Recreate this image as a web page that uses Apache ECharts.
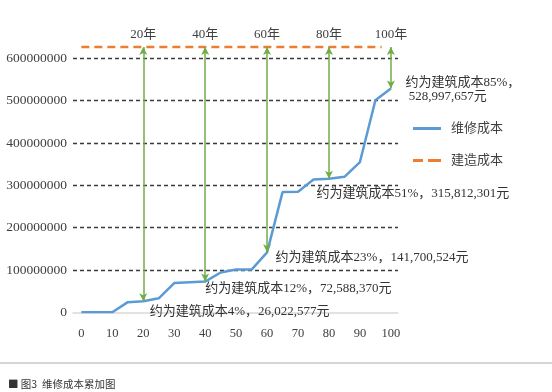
<!DOCTYPE html>
<html><head><meta charset="utf-8">
<script src="https://cdn.jsdelivr.net/npm/echarts@6/dist/echarts.min.js"></script>
<style>html,body{margin:0;padding:0;background:#fff}#c{width:552px;height:392px}</style>
</head><body><div id="c"></div>
<script>
// ---- data ----
const years = [0,5,10,15,20,25,30,35,40,45,50,55,60,65,70,75,80,85,90,95,100];
const maintenanceCost = [0,0,0,24000000,26022577,33000000,69000000,71000000,72588370,94000000,101000000,101000000,141700524,284000000,285000000,314000000,315812301,320000000,355000000,501000000,528997657];
const constructionSpan = [0, 97];
const constructionCostValue = 627000000;
const markerYears = [20,40,60,80,100];
const markerLabels = ['20年','40年','60年','80年','100年'];
const markerValues = [26022577,72588370,141700524,315812301,528997657];
const annotationTexts = [
  '约为建筑成本4%，26,022,577元',
  '约为建筑成本12%，72,588,370元',
  '约为建筑成本23%，141,700,524元',
  '约为建筑成本51%，315,812,301元',
  '约为建筑成本85%，\n 528,997,657元'
];
const xTickLabels = [0,10,20,30,40,50,60,70,80,90,100];
const seriesNames = ['维修成本','建造成本'];
const caption = '■ 图3  维修成本累加图';

// ---- layout (not data) ----
const annotationOffsets = [[7,10.7],[0.5,7.4],[9,5.7],[-12,15.4],[15,1.6]];
const serif = '"Liberation Serif","Noto Sans CJK SC",serif';

const chart = echarts.init(document.getElementById('c'), null, {renderer:'canvas'});
chart.setOption({
  animation: false,
  backgroundColor: '#fff',
  title: {
    text: caption, left: 3, top: 374,
    textStyle: {fontSize: 10.5, fontWeight: 'normal', color: '#333', fontFamily: '"Noto Sans CJK SC",sans-serif'}
  },
  graphic: [{type:'line', shape:{x1:0,y1:363,x2:552,y2:363}, style:{stroke:'#c9c9c9', lineWidth:1.5}}],
  legend: {
    orient: 'vertical', left: 408, top: 117,
    itemWidth: 28, itemHeight: 14, itemGap: 19,
    textStyle: {fontSize: 13, color: '#404040', fontFamily: serif, padding:[0,0,0,5]},
    data: [
      {name: seriesNames[0], icon: 'path://M0,0h28v3h-28z'},
      {name: seriesNames[1], icon: 'path://M0,0h10v3h-10zM15,0h13v3h-13z'}
    ]
  },
  grid: {left: 73, right: 154, top: 37.2, bottom: 79.7},
  xAxis: {
    type: 'value', min: -2.7, max: 102.3,
    axisLine: {show: true, lineStyle: {color: '#d9d9d9', width: 1.5}},
    axisTick: {show: false},
    splitLine: {show: false},
    axisLabel: {customValues: xTickLabels, margin: 15, fontSize: 12.5, color: '#404040', fontFamily: serif}
  },
  yAxis: {
    type: 'value', min: 0, max: 650000000, interval: 100000000,
    axisLine: {show: false}, axisTick: {show: false},
    axisLabel: {showMaxLabel: false, margin: 6, fontSize: 13.5, color: '#404040', fontFamily: serif,
      formatter: v => String(v)},
    splitLine: {show: true, showMinLine: false, showMaxLine: false,
      lineStyle: {color: '#3a3a3a', width: 1.3, type: [4,3]}}
  },
  series: [
    {
      name: seriesNames[0], type: 'line', symbol: 'none', z: 3,
      data: years.map((y,i) => [y, maintenanceCost[i]]),
      lineStyle: {color: '#5B9BD5', width: 2.5},
      itemStyle: {color: '#5B9BD5'},
      markLine: {
        silent: true, symbol: ['arrow','arrow'], symbolSize: [6,8],
        lineStyle: {color: '#70AD47', width: 1.5, type: 'solid'},
        label: {show: true, position: 'start', distance: 6, formatter: p => p.name,
          fontSize: 13, color: '#404040', fontFamily: serif},
        data: markerYears.map((y,i) => [
          {name: markerLabels[i], coord: [y, constructionCostValue]},
          {coord: [y, markerValues[i]]}
        ])
      },
      markPoint: {
        silent: true, symbol: 'circle', symbolSize: 1,
        itemStyle: {color: 'rgba(0,0,0,0)'},
        data: markerYears.map((y,i) => ({
          coord: [y, markerValues[i]],
          label: {show: true, formatter: annotationTexts[i], position: annotationOffsets[i],
            align: 'left', verticalAlign: 'middle', fontSize: 13, lineHeight: 14,
            color: '#333', fontFamily: serif}
        }))
      }
    },
    {
      name: seriesNames[1], type: 'line', symbol: 'none', z: 2,
      data: constructionSpan.map(x => [x, constructionCostValue]),
      lineStyle: {color: '#ED7D31', width: 2.5, type: [8,5]},
      itemStyle: {color: '#ED7D31'}
    }
  ]
});
</script></body></html>
